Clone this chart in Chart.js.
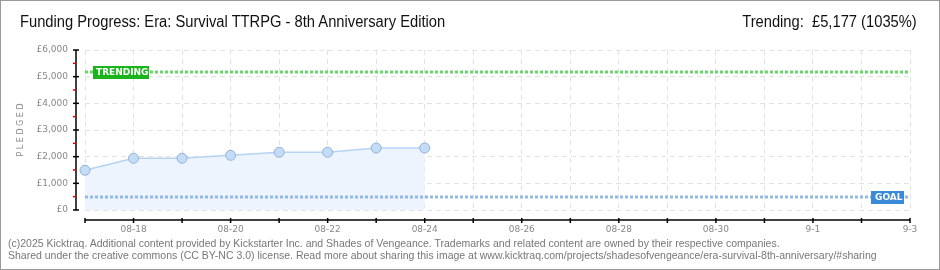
<!DOCTYPE html>
<html>
<head>
<meta charset="utf-8">
<script src="https://cdn.jsdelivr.net/npm/chart.js@4"></script>
<style>
  body { margin: 0; background: #fff; }
  #wrap { position: relative; width: 940px; height: 270px; }
  #frame { position: absolute; left: 0; top: 0; width: 940px; height: 270px; border: 1px solid #999; box-sizing: border-box; pointer-events: none; }
  .title { position: absolute; top: 13px; font-family: "Liberation Sans", sans-serif; font-size: 16px; color: #111; white-space: nowrap; }
  #left { left: 20px; transform: scaleX(0.92); transform-origin: left top; }
  #right { right: 23px; transform: scaleX(0.92); transform-origin: right top; }
  #foot { position: absolute; left: 8px; top: 237px; font-family: "Liberation Sans", sans-serif; font-size: 10.5px; line-height: 12px; color: #777; white-space: nowrap; }
</style>
</head>
<body>
<div id="wrap">
  <canvas id="fundChart" width="940" height="270"></canvas>
  <div class="title" id="left">Funding Progress: Era: Survival TTRPG - 8th Anniversary Edition</div>
  <div class="title" id="right">Trending:&nbsp; £5,177 (1035%)</div>
  <div id="foot">(c)2025 Kicktraq. Additional content provided by Kickstarter Inc. and Shades of Vengeance. Trademarks and related content are owned by their respective companies.<br>Shared under the creative commons (CC BY-NC 3.0) license. Read more about sharing this image at www.kicktraq.com/projects/shadesofvengeance/era-survival-8th-anniversary/#sharing</div>
  <div id="frame"></div>
</div>
<script>
// Data
const days = ["08-17", "08-18", "08-19", "08-20", "08-21", "08-22", "08-23", "08-24", "08-25",
  "08-26", "08-27", "08-28", "08-29", "08-30", "08-31", "9-1", "9-2", "9-3"];
const pledged = [1490, 1940, 1940, 2050, 2165, 2165, 2325, 2325];
const yTicks = [0, 1000, 2000, 3000, 4000, 5000, 6000];
const trending = 5177;
const goal = 500;

const tickFont = { family: "DejaVu Sans", size: 9 };

// axes lines, ticks and the trending / goal markers
const extras = {
  id: "extras",
  afterDatasetsDraw(chart) {
    const ctx = chart.ctx;
    const area = chart.chartArea;
    const x = chart.scales.x;
    const y = chart.scales.y;
    ctx.save();

    // goal line
    const gy = Math.round(y.getPixelForValue(goal));
    ctx.strokeStyle = "#93b9e6";
    ctx.lineWidth = 3;
    ctx.setLineDash([3, 2]);
    ctx.beginPath();
    ctx.moveTo(area.left, gy);
    ctx.lineTo(area.right, gy);
    ctx.stroke();

    // trending line
    const ty = Math.round(y.getPixelForValue(trending));
    ctx.strokeStyle = "#6ad66a";
    ctx.beginPath();
    ctx.moveTo(area.left, ty);
    ctx.lineTo(area.right, ty);
    ctx.stroke();
    ctx.setLineDash([]);

    // labels
    ctx.font = "bold 9px 'DejaVu Sans'";
    ctx.textBaseline = "middle";
    ctx.textAlign = "left";
    ctx.fillStyle = "#1cb41c";
    ctx.fillRect(area.left + 8, ty - 6, 56, 13);
    ctx.fillStyle = "#fff";
    ctx.fillText("TRENDING", area.left + 11, ty + 1);

    ctx.fillStyle = "#3b8ad9";
    ctx.fillRect(area.right - 39, gy - 6, 33, 13);
    ctx.fillStyle = "#fff";
    ctx.fillText("GOAL", area.right - 35, gy + 1);

    // y axis
    const ax = area.left - 9;
    ctx.strokeStyle = "#000";
    ctx.lineWidth = 1.5;
    ctx.beginPath();
    ctx.moveTo(ax, y.getPixelForValue(6000));
    ctx.lineTo(ax, y.getPixelForValue(0));
    ctx.stroke();
    yTicks.forEach(v => {
      const p = y.getPixelForValue(v);
      ctx.beginPath();
      ctx.moveTo(ax - 3, p);
      ctx.lineTo(ax + 3, p);
      ctx.stroke();
    });
    ctx.strokeStyle = "#e00";
    yTicks.slice(1).forEach(v => {
      const p = y.getPixelForValue(v - 500);
      ctx.beginPath();
      ctx.moveTo(ax - 3, p);
      ctx.lineTo(ax, p);
      ctx.stroke();
    });

    // x axis
    const ay = area.bottom + 10;
    ctx.strokeStyle = "#000";
    ctx.beginPath();
    ctx.moveTo(area.left, ay);
    ctx.lineTo(area.right, ay);
    ctx.stroke();
    days.forEach((d, i) => {
      const p = x.getPixelForValue(i);
      ctx.beginPath();
      ctx.moveTo(p, ay - 2);
      ctx.lineTo(p, ay + 3);
      ctx.stroke();
    });
    ctx.restore();
  },
};

const config = {
  type: "line",
  data: {
    labels: days,
    datasets: [
      {
        data: pledged,
        borderColor: "#b5d3f2",
        borderWidth: 1.5,
        backgroundColor: "#edf4fd",
        fill: "origin",
        tension: 0,
        pointRadius: 5,
        pointBackgroundColor: "#c5dcf6",
        pointBorderColor: "#90b2da",
        pointBorderWidth: 1,
      },
    ],
  },
  options: {
    responsive: false,
    animation: false,
    layout: { padding: { top: 50, right: 30, bottom: 0, left: 0 } },
    plugins: {
      legend: { display: false },
      tooltip: { enabled: false },
    },
    scales: {
      x: {
        offset: false,
        grid: { color: "#e3e3e3", drawTicks: false },
        border: { display: false, dash: [5, 4] },
        ticks: {
          autoSkip: false,
          maxRotation: 0,
          padding: 14,
          color: "#888",
          font: tickFont,
          callback: (v, i) => (i % 2 === 1 ? days[i] : ""),
        },
        afterFit: (scale) => { scale.height = 60; },
      },
      y: {
        min: 0,
        max: 6000,
        grid: { color: "#e3e3e3", drawTicks: false },
        border: { display: false, dash: [5, 4] },
        ticks: {
          stepSize: 1000,
          padding: 17,
          color: "#888",
          font: tickFont,
          callback: (v) => "£" + v.toLocaleString("en-US"),
        },
        title: {
          display: true,
          text: "P L E D G E D",
          color: "#888",
          font: { family: "DejaVu Sans", size: 8 },
          padding: { top: 16, bottom: 0 },
        },
        afterFit: (scale) => { scale.width = 85; },
      },
    },
  },
  plugins: [extras],
};

const fundChart = new Chart(document.getElementById("fundChart"), config);
</script>
</body>
</html>
